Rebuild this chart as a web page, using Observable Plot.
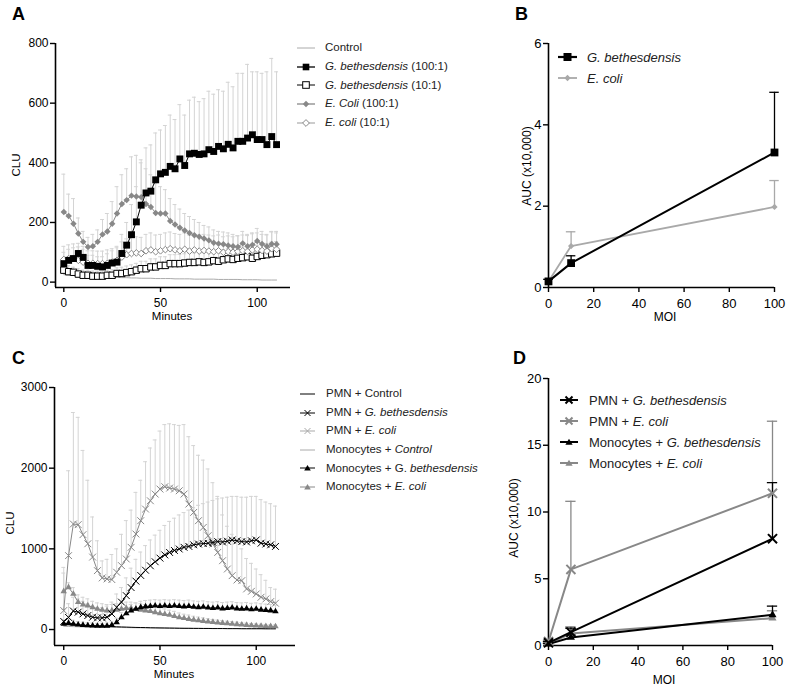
<!DOCTYPE html>
<html><head><meta charset="utf-8">
<script src="https://cdn.jsdelivr.net/npm/d3@7"></script>
<script src="https://cdn.jsdelivr.net/npm/@observablehq/plot@0.6"></script>
<style>
body{margin:0;background:#fff;}
#root{position:relative;width:800px;height:688px;font-family:'Liberation Sans',Arial,sans-serif;color:#000;overflow:hidden;background:#fff}
.t{position:absolute;white-space:nowrap;line-height:1}
.plabel{font-weight:bold;font-size:18px}
.row{position:absolute;display:flex;align-items:center;white-space:nowrap;color:#222;line-height:1}
.row svg{flex:none;overflow:visible}
</style></head><body><div id="root"></div>
<script>
// ---------- data ----------
const T = [0,2.5,5,7.5,10,12.5,15,17.5,20,22.5,25,27.5,30,32.5,35,37.5,40,42.5,45,47.5,50,52.5,55,57.5,60,62.5,65,67.5,70,72.5,75,77.5,80,82.5,85,87.5,90,92.5,95,97.5,100,102.5,105,107.5,110];

// Panel A (CLU vs minutes)
const A_CONTROL = [25,24,23,22,21,20,19,18,17,17,16,16,15,15,14,14,13,13,13,12,12,12,12,11,11,11,11,10,10,10,10,10,9,9,9,9,9,8,8,8,8,7,7,7,7];
const A_G100 = [62,73,79,96,83,56,56,53,51,56,64,67,96,124,159,202,258,299,305,343,363,368,388,380,413,391,430,432,428,430,444,438,455,447,462,450,472,472,483,494,478,478,461,488,461];
const A_G100_HI = [100,110,115,130,120,90,90,85,85,95,105,115,160,200,260,320,400,450,460,500,510,525,560,545,595,560,610,620,605,615,640,630,645,640,670,655,700,700,730,705,705,700,705,750,705];
const A_G10 = [40,35,33,27,23,23,20,20,20,23,23,29,29,32,35,40,45,45,51,51,56,56,62,62,62,64,66,66,68,66,68,72,70,75,78,76,80,82,85,80,86,90,92,95,97];
const A_G10_HI = [60,55,50,45,40,40,37,37,37,40,42,48,50,54,58,63,70,70,78,78,85,85,92,92,93,95,98,98,100,98,100,105,103,108,112,110,115,118,122,116,123,128,130,134,136];
const A_E100 = [235,222,196,163,135,118,120,135,160,170,196,230,262,275,290,287,285,262,252,232,230,230,205,193,182,173,165,157,152,146,140,132,129,127,123,120,118,130,120,125,138,128,120,128,127];
const A_E100_HI = [362,295,280,215,170,150,160,175,210,230,270,320,360,380,420,425,410,380,360,330,320,310,280,260,245,230,220,210,200,190,185,175,170,168,165,160,155,170,160,165,180,170,160,170,170];
const A_E10 = [76,79,80,73,67,63,63,62,62,63,67,73,84,92,96,98,96,105,108,102,105,109,112,108,105,110,104,108,104,106,104,102,105,100,102,100,103,105,103,108,110,106,104,112,110];
const A_E10_HI = [120,125,128,118,110,105,105,104,104,108,112,120,135,145,150,152,150,160,165,158,160,165,168,163,160,165,158,162,158,160,158,155,158,152,155,152,156,158,156,162,165,160,158,168,165];
const A_XTICKS = [0,50,100];
const A_YTICKS = [0,200,400,600,800];
const A_LEGEND = ["Control","<i>G. bethesdensis</i> (100:1)","<i>G. bethesdensis</i> (10:1)","<i>E. Coli</i> (100:1)","<i>E. coli</i> (10:1)"];

// Panel B (AUC vs MOI)
const B_MOI = [0,10,100];
const B_GB = [0.15,0.6,3.32];
const B_GB_HI = [0.2,0.78,4.8];
const B_EC = [0.15,1.02,1.98];
const B_EC_HI = [0.2,1.37,2.63];
const B_XTICKS = [0,20,40,60,80,100];
const B_YTICKS = [0,2,4,6];
const B_LEGEND = ["<i>G. bethesdensis</i>","<i>E. coli</i>"];

// Panel C (CLU vs minutes, PMN / monocytes)
const C_PMN_CTRL = [60,58,55,52,50,48,45,43,40,38,36,34,32,30,28,26,25,24,22,21,20,19,18,17,16,15,15,14,14,13,13,12,12,12,11,11,11,10,10,10,10,10,9,9,9];
const C_MONO_CTRL = [40,38,36,34,33,32,31,30,29,28,27,26,25,24,23,22,21,20,20,19,18,18,17,17,16,16,15,15,14,14,14,13,13,13,12,12,12,12,11,11,11,11,10,10,10];
const C_PMN_GB = [100,150,230,215,194,173,153,144,144,153,194,276,340,420,520,600,670,735,790,840,885,925,955,980,998,1019,1030,1050,1060,1065,1069,1080,1090,1085,1095,1110,1100,1090,1085,1100,1110,1070,1060,1050,1030];
const C_PMN_GB_HI = [250,320,400,380,350,320,290,270,270,290,340,440,520,640,760,870,960,1040,1110,1170,1230,1290,1340,1380,1420,1450,1480,1510,1540,1560,1580,1600,1620,1630,1640,1650,1650,1640,1640,1650,1650,1610,1580,1560,1530];
const C_PMN_EC = [235,916,1308,1300,1176,1063,898,730,640,627,619,710,792,874,1019,1184,1349,1493,1596,1679,1741,1770,1753,1741,1720,1679,1555,1452,1349,1266,1163,1060,956,853,750,668,614,606,503,474,441,400,379,346,326];
const C_PMN_EC_HI = [770,1968,2690,2630,2220,1850,1395,1100,850,870,930,1000,1180,1350,1480,1700,1850,2080,2250,2350,2460,2540,2550,2540,2530,2540,2390,2280,2160,2100,1990,1820,1650,1420,1280,1180,1080,1000,880,820,750,680,610,520,500];
const C_MONO_GB = [70,80,70,60,55,50,48,45,45,45,55,90,150,200,235,255,275,285,290,295,290,295,290,295,290,285,290,280,275,280,270,265,270,260,265,270,260,255,260,250,255,245,240,235,225];
const C_MONO_GB_HI = [120,130,115,100,92,85,82,78,78,80,95,140,210,270,310,330,350,360,365,370,365,370,365,370,365,360,365,355,350,355,345,340,345,335,340,345,335,330,335,325,330,320,315,310,300];
const C_MONO_EC = [474,523,441,338,309,297,276,256,243,235,235,243,256,264,264,256,243,235,227,214,200,190,180,165,150,140,130,120,112,105,98,92,85,80,75,70,65,60,55,50,48,45,42,40,38];
const C_MONO_EC_HI = [700,580,520,430,400,380,350,330,320,310,310,320,330,340,340,330,320,310,300,285,270,255,240,225,205,190,180,165,155,145,135,125,118,110,104,98,92,85,80,75,70,66,62,60,58];
const C_XTICKS = [0,50,100];
const C_YTICKS = [0,1000,2000,3000];
const C_LEGEND = ["PMN + Control","PMN + <i>G. bethesdensis</i>","PMN + <i>E. coli</i>","Monocytes + <i>Control</i>","Monocytes + G. <i>bethesdensis</i>","Monocytes + <i>E. coli</i>"];

// Panel D (AUC vs MOI)
const D_MOI = [0,10,100];
const D_PMN_GB = [0.2,1.0,8.0];
const D_PMN_GB_HI = [0.3,1.3,12.2];
const D_PMN_EC = [0.3,5.7,11.4];
const D_PMN_EC_HI = [0.4,10.8,16.8];
const D_MONO_GB = [0.1,0.6,2.3];
const D_MONO_GB_HI = [0.15,0.8,2.95];
const D_MONO_EC = [0.15,0.9,2.05];
const D_MONO_EC_HI = [0.2,1.4,2.6];
const D_XTICKS = [0,20,40,60,80,100];
const D_YTICKS = [0,5,10,15,20];
const D_LEGEND = ["PMN + <i>G. bethesdensis</i>","PMN + <i>E. coli</i>","Monocytes + <i>G. bethesdensis</i>","Monocytes + <i>E. coli</i>"];

// ---------- helpers ----------
const root = document.getElementById("root");
const FONT = "'Liberation Sans', Arial, sans-serif";
const ERR = "#d4d4d4";
const GREY = "#888888";
const LGREY = "#a9a9a9";

function rows(xs, v, hi){ return xs.map((t,i)=>({t, v:v[i], hi: hi ? hi[i] : null})); }
function err(data, cap, color, sw){
  return [
    Plot.ruleX(data, {x:"t", y1:"v", y2:"hi", stroke:color, strokeWidth:sw||1}),
    Plot.ruleY(data, {x1:d=>d.t-cap, x2:d=>d.t+cap, y:"hi", stroke:color, strokeWidth:sw||1})
  ];
}
function frame(xd, yd, xt, yt, fs){
  return [
    Plot.ruleX([xd[0]], {stroke:"#000", strokeWidth:1.6}),
    Plot.ruleY([yd[0]], {stroke:"#000", strokeWidth:1.6}),
    Plot.axisY({ticks:yt, tickSize:5, tickPadding:2, label:null, strokeWidth:1.4, tickFormat:d=>String(d), fontSize:fs}),
    Plot.axisX({ticks:xt, tickSize:5, tickPadding:6, label:null, strokeWidth:1.4, tickFormat:d=>String(d), fontSize:fs})
  ];
}
function place(el, left, top){
  el.style.position="absolute"; el.style.left=left+"px"; el.style.top=top+"px";
  root.appendChild(el);
}
function text(str, x, y, opts){
  const d = document.createElement("div");
  d.className = "t " + (opts.cls||"");
  d.innerHTML = str;
  d.style.left = x+"px"; d.style.top = y+"px";
  if (opts.size) d.style.fontSize = opts.size+"px";
  d.style.transform = opts.rotate ? "translate(-50%,-50%) rotate(-90deg)" : (opts.center ? "translate(-50%,-50%)" : "translate(0,-50%)");
  root.appendChild(d);
}
function swatch(spec, lineLen, w){
  const svg = d3.create("svg").attr("width", w).attr("height", 14);
  svg.append("line").attr("x1",0).attr("x2",lineLen).attr("y1",7).attr("y2",7)
     .attr("stroke",spec.stroke).attr("stroke-width",spec.sw);
  const cx = lineLen/2, cy = 7, s = spec.s || 3.5;
  if (spec.sym === "square") {
    svg.append("rect").attr("x",cx-s).attr("y",cy-s).attr("width",2*s).attr("height",2*s)
       .attr("fill",spec.fill).attr("stroke",spec.symStroke||"none").attr("stroke-width",1);
  } else if (spec.sym === "diamond") {
    svg.append("path").attr("d",`M${cx},${cy-s}L${cx+s},${cy}L${cx},${cy+s}L${cx-s},${cy}Z`)
       .attr("fill",spec.fill).attr("stroke",spec.symStroke||"none").attr("stroke-width",1);
  } else if (spec.sym === "times") {
    svg.append("path").attr("d",`M${cx-s},${cy-s}L${cx+s},${cy+s}M${cx-s},${cy+s}L${cx+s},${cy-s}`)
       .attr("stroke",spec.symStroke).attr("stroke-width",spec.symSw||1).attr("fill","none");
  } else if (spec.sym === "triangle") {
    svg.append("path").attr("d",`M${cx},${cy-s}L${cx+s*1.1},${cy+s*0.8}L${cx-s*1.1},${cy+s*0.8}Z`)
       .attr("fill",spec.fill);
  }
  return svg.node();
}
function legend(labels, specs, x, y0, dy, lineLen, textX, fs){
  labels.forEach((lab,i)=>{
    const r = document.createElement("div");
    r.className = "row";
    r.style.left = x+"px"; r.style.top = (y0 + i*dy - 7)+"px"; r.style.height="14px";
    r.style.fontSize = fs+"px";
    r.appendChild(swatch(specs[i], lineLen, textX - x));
    const sp = document.createElement("span"); sp.innerHTML = lab;
    r.appendChild(sp);
    root.appendChild(r);
  });
}
const style = (fs)=>({fontFamily:FONT, fontSize:fs+"px", color:"#000", background:"none", overflow:"visible"});

// ---------- Panel A ----------
{
  const ctrl = rows(T, A_CONTROL);
  const g100 = rows(T, A_G100, A_G100_HI);
  const g10 = rows(T, A_G10, A_G10_HI);
  const e100 = rows(T, A_E100, A_E100_HI);
  const e10 = rows(T, A_E10, A_E10_HI);
  const xd = [-4.3, 117.2], yd = [-18, 800];
  const p = Plot.plot({
    width:300, height:295, marginLeft:55, marginRight:10, marginTop:13, marginBottom:38,
    x:{domain:xd}, y:{domain:yd}, style:style(12),
    marks:[
      ...frame(xd, yd, A_XTICKS, A_YTICKS, 12),
      ...err(g10,1,ERR), ...err(e10,1,ERR), ...err(e100,1,ERR), ...err(g100,1,ERR),
      Plot.line(ctrl, {x:"t", y:"v", stroke:"#aaa", strokeWidth:1}),
      Plot.line(g10, {x:"t", y:"v", stroke:"#000", strokeWidth:1}),
      Plot.dot(g10, {x:"t", y:"v", symbol:"square", r:3.6, fill:"#fff", stroke:"#000", strokeWidth:1}),
      Plot.line(e10, {x:"t", y:"v", stroke:"#999", strokeWidth:1}),
      Plot.dot(e10, {x:"t", y:"v", symbol:"diamond2", r:3.0, fill:"#fff", stroke:"#888", strokeWidth:1}),
      Plot.line(e100, {x:"t", y:"v", stroke:GREY, strokeWidth:1}),
      Plot.dot(e100, {x:"t", y:"v", symbol:"diamond2", r:2.9, fill:GREY, stroke:"none"}),
      Plot.line(g100, {x:"t", y:"v", stroke:"#000", strokeWidth:1}),
      Plot.dot(g100, {x:"t", y:"v", symbol:"square", r:3.9, fill:"#000", stroke:"none"})
    ]
  });
  place(p, 0, 30);
  text("A", 12, 14, {cls:"plabel"});
  text("CLU", 17, 165, {rotate:true, size:11.5});
  text("Minutes", 172, 317, {center:true, size:11.5});
  legend(A_LEGEND, [
    {stroke:"#aaa", sw:1},
    {stroke:"#000", sw:1.3, sym:"square", fill:"#000", s:3.3},
    {stroke:"#000", sw:1, sym:"square", fill:"#fff", symStroke:"#000", s:3.3},
    {stroke:GREY, sw:1.3, sym:"diamond", fill:GREY, s:3.2},
    {stroke:"#999", sw:1, sym:"diamond", fill:"#fff", symStroke:"#888", s:3.4}
  ], 297, 48, 18.7, 18, 325, 11.5);
}

// ---------- Panel B ----------
{
  const gb = rows(B_MOI, B_GB, B_GB_HI);
  const ec = rows(B_MOI, B_EC, B_EC_HI);
  const xd = [0, 100], yd = [0, 6];
  const p = Plot.plot({
    width:310, height:295, marginLeft:58, marginRight:26, marginTop:13, marginBottom:38,
    x:{domain:xd}, y:{domain:yd}, style:style(13),
    marks:[
      ...frame(xd, yd, B_XTICKS, B_YTICKS, 13),
      ...err(ec, 2.1, LGREY, 1.3),
      ...err(gb, 2.1, "#000", 1.3),
      Plot.line(ec, {x:"t", y:"v", stroke:LGREY, strokeWidth:1.8}),
      Plot.dot(ec, {x:"t", y:"v", symbol:"diamond2", r:2.8, fill:LGREY, stroke:"none"}),
      Plot.line(gb, {x:"t", y:"v", stroke:"#000", strokeWidth:2}),
      Plot.dot(gb, {x:"t", y:"v", symbol:"square", r:4.4, fill:"#000", stroke:"none"})
    ]
  });
  place(p, 490, 30);
  text("B", 515, 14, {cls:"plabel"});
  text("AUC (x10,000)", 527, 166, {rotate:true, size:12});
  text("MOI", 665, 317, {center:true, size:12});
  legend(B_LEGEND, [
    {stroke:"#000", sw:2.2, sym:"square", fill:"#000", s:4},
    {stroke:LGREY, sw:1.8, sym:"diamond", fill:LGREY, s:3.2}
  ], 558, 57, 21, 19, 587, 13);
}

// ---------- Panel C ----------
{
  const pc = rows(T, C_PMN_CTRL);
  const mc = rows(T, C_MONO_CTRL);
  const pg = rows(T, C_PMN_GB, C_PMN_GB_HI);
  const pe = rows(T, C_PMN_EC, C_PMN_EC_HI);
  const mg = rows(T, C_MONO_GB, C_MONO_GB_HI);
  const me = rows(T, C_MONO_EC, C_MONO_EC_HI);
  const xd = [-4.8, 120.4], yd = [-198, 3000];
  const p = Plot.plot({
    width:300, height:318, marginLeft:54, marginRight:5, marginTop:17, marginBottom:43,
    x:{domain:xd}, y:{domain:yd}, style:style(12),
    marks:[
      ...frame(xd, yd, C_XTICKS, C_YTICKS, 12),
      ...err(mg,1,ERR), ...err(me,1,ERR), ...err(pg,1,ERR), ...err(pe,1,ERR),
      Plot.line(mc, {x:"t", y:"v", stroke:"#aaa", strokeWidth:1}),
      Plot.line(pc, {x:"t", y:"v", stroke:"#000", strokeWidth:1}),
      Plot.line(me, {x:"t", y:"v", stroke:GREY, strokeWidth:1}),
      Plot.dot(me, {x:"t", y:"v", symbol:"triangle", r:2.4, fill:GREY, stroke:"none"}),
      Plot.line(mg, {x:"t", y:"v", stroke:"#000", strokeWidth:1}),
      Plot.dot(mg, {x:"t", y:"v", symbol:"triangle", r:2.4, fill:"#000", stroke:"none"}),
      Plot.line(pe, {x:"t", y:"v", stroke:GREY, strokeWidth:1}),
      Plot.dot(pe, {x:"t", y:"v", symbol:"times", r:3.2, stroke:GREY, strokeWidth:1, fill:"none"}),
      Plot.line(pg, {x:"t", y:"v", stroke:"#000", strokeWidth:1}),
      Plot.dot(pg, {x:"t", y:"v", symbol:"times", r:3.2, stroke:"#000", strokeWidth:1, fill:"none"})
    ]
  });
  place(p, 0, 370);
  text("C", 12, 358, {cls:"plabel"});
  text("CLU", 11, 523, {rotate:true, size:11.5});
  text("Minutes", 174, 675, {center:true, size:11.5});
  legend(C_LEGEND, [
    {stroke:"#000", sw:1},
    {stroke:"#000", sw:1, sym:"times", symStroke:"#000", s:3},
    {stroke:LGREY, sw:1, sym:"times", symStroke:LGREY, s:3},
    {stroke:"#aaa", sw:1},
    {stroke:"#000", sw:1, sym:"triangle", fill:"#000", s:3},
    {stroke:GREY, sw:1, sym:"triangle", fill:GREY, s:3}
  ], 300, 394, 18.6, 15, 326, 11.5);
}

// ---------- Panel D ----------
{
  const pg = rows(D_MOI, D_PMN_GB, D_PMN_GB_HI);
  const pe = rows(D_MOI, D_PMN_EC, D_PMN_EC_HI);
  const mg = rows(D_MOI, D_MONO_GB, D_MONO_GB_HI);
  const me = rows(D_MOI, D_MONO_EC, D_MONO_EC_HI);
  const xd = [0, 100], yd = [0, 20];
  const p = Plot.plot({
    width:310, height:318, marginLeft:58, marginRight:28, marginTop:8, marginBottom:43,
    x:{domain:xd}, y:{domain:yd}, style:style(13),
    marks:[
      ...frame(xd, yd, D_XTICKS, D_YTICKS, 13),
      ...err(pe, 2.3, GREY, 1.3), ...err(me, 2.3, GREY, 1.3),
      ...err(pg, 2.3, "#000", 1.3), ...err(mg, 2.3, "#000", 1.3),
      Plot.line(me, {x:"t", y:"v", stroke:GREY, strokeWidth:2}),
      Plot.dot(me, {x:"t", y:"v", symbol:"triangle", r:3, fill:GREY, stroke:"none"}),
      Plot.line(mg, {x:"t", y:"v", stroke:"#000", strokeWidth:2}),
      Plot.dot(mg, {x:"t", y:"v", symbol:"triangle", r:3, fill:"#000", stroke:"none"}),
      Plot.line(pe, {x:"t", y:"v", stroke:GREY, strokeWidth:2}),
      Plot.dot(pe, {x:"t", y:"v", symbol:"times", r:4.2, stroke:GREY, strokeWidth:2, fill:"none"}),
      Plot.line(pg, {x:"t", y:"v", stroke:"#000", strokeWidth:2}),
      Plot.dot(pg, {x:"t", y:"v", symbol:"times", r:4.2, stroke:"#000", strokeWidth:2, fill:"none"})
    ]
  });
  place(p, 490, 370);
  text("D", 513, 358, {cls:"plabel"});
  text("AUC (x10,000)", 514, 518, {rotate:true, size:12});
  text("MOI", 664, 680, {center:true, size:12});
  legend(D_LEGEND, [
    {stroke:"#000", sw:2, sym:"times", symStroke:"#000", symSw:2, s:3.5},
    {stroke:GREY, sw:2, sym:"times", symStroke:GREY, symSw:2, s:3.5},
    {stroke:"#000", sw:2, sym:"triangle", fill:"#000", s:3.3},
    {stroke:GREY, sw:2, sym:"triangle", fill:GREY, s:3.3}
  ], 560, 400, 21, 18, 589, 13);
}
</script></body></html>
